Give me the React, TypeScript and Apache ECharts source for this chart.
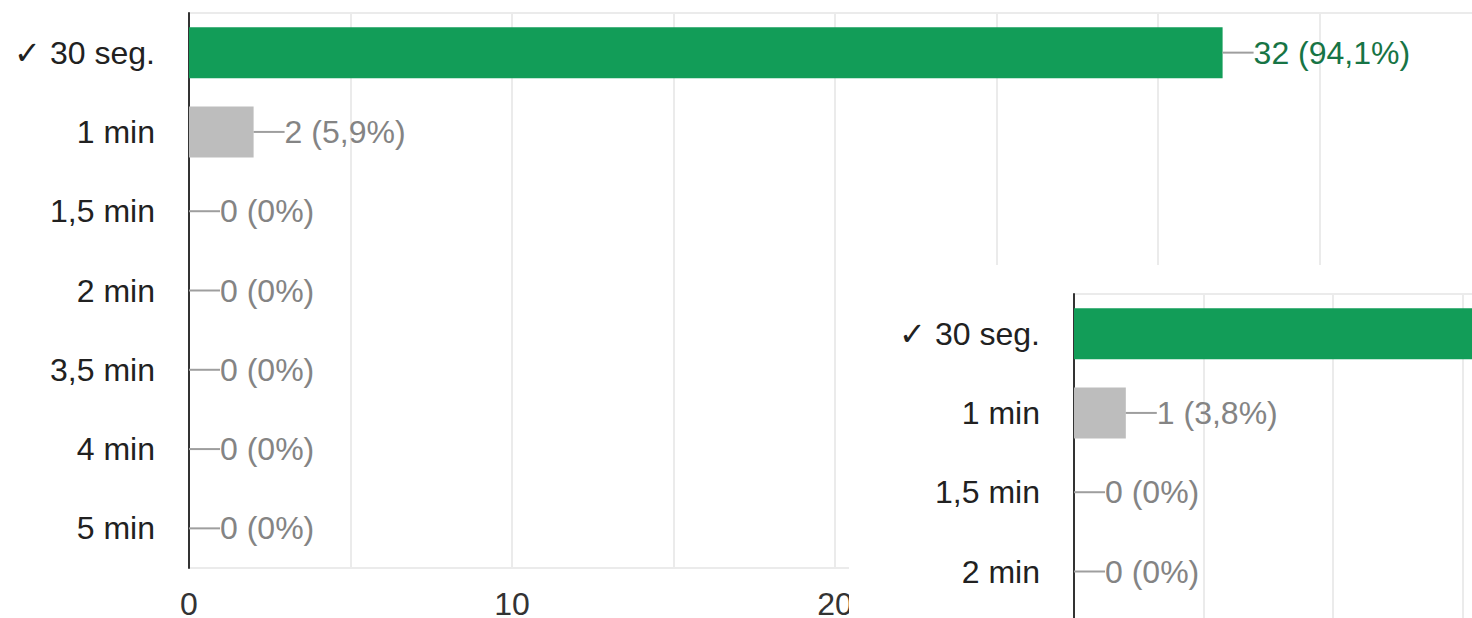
import React, { useEffect, useRef } from "react";
import * as echarts from "echarts";

const categories = ["✓ 30 seg.", "1 min", "1,5 min", "2 min", "3,5 min", "4 min", "5 min"];
const mainCounts = [32, 2, 0, 0, 0, 0, 0];
const insetCounts = [25, 1, 0, 0, 0, 0, 0];
const correctIndex = 0;
const mainTickStep = 5;
const mainLabelStep = 10;
const mainAxisMax = 40;
const mainVisibleTickMax = 30;
const insetTickStep = 2.5;
const insetAxisMax = 30;
const insetVisibleRows = 4;

const FONT = "Arial, 'Liberation Sans', Helvetica, sans-serif";
const GREEN = "#129d58";
const GREEN_TEXT = "#177445";
const GRAY_BAR = "#bdbdbd";
const GRAY_TEXT = "#848484";
const GRID_COLOR = "#ebebeb";

function pctLabel(v: number, total: number): string {
  if (v === 0) return `${v} (0%)`;
  const p = ((v / total) * 100).toFixed(1).replace(".", ",");
  return `${v} (${p}%)`;
}

function buildOption(
  counts: number[],
  grid: any,
  max: number,
  step: number,
  labelStep: number | null,
  isVisibleRow: (i: number, v: number) => boolean
) {
  const total = counts.reduce((a, b) => a + b, 0);
  return {
    animation: false,
    textStyle: { fontFamily: FONT },
    grid: {
      ...grid,
      outerBoundsMode: "none",
      containLabel: false,
      show: true,
      borderColor: GRID_COLOR,
      borderWidth: 2,
      backgroundColor: "transparent",
    },
    xAxis: {
      type: "value",
      min: 0,
      max,
      interval: step,
      axisLine: { show: false },
      axisTick: { show: false },
      splitLine: { show: true, lineStyle: { color: GRID_COLOR, width: 2 } },
      axisLabel: {
        show: labelStep !== null,
        formatter: (v: number) =>
          labelStep !== null && v % labelStep === 0 && v <= mainVisibleTickMax ? String(v) : "",
        fontSize: 32,
        lineHeight: 28,
        color: "#333333",
        margin: 22,
        fontFamily: FONT,
      },
    },
    yAxis: {
      type: "category",
      inverse: true,
      data: categories,
      axisLine: { show: true, lineStyle: { color: "#333333", width: 2 } },
      axisTick: { show: false },
      axisLabel: {
        fontSize: 32,
        color: "#212121",
        margin: 34,
        fontFamily: FONT,
        formatter: (v: string, i: number) => (isVisibleRow(i, 0) ? v : ""),
      },
    },
    series: [
      {
        type: "bar",
        barWidth: 51,
        data: counts.map((v, i) => ({
          value: v,
          itemStyle: { color: i === correctIndex ? GREEN : GRAY_BAR },
          label: { show: isVisibleRow(i, v) },
        })),
        label: {
          show: true,
          position: "right",
          distance: 0,
          formatter: (p: any) =>
            `{l|}{${p.dataIndex === correctIndex ? "g" : "t"}|${pctLabel(p.value, total)}}`,
          rich: {
            l: { width: 31, height: 2, backgroundColor: "#9e9e9e", verticalAlign: "middle" },
            t: { fontSize: 32, color: GRAY_TEXT, fontFamily: FONT, verticalAlign: "middle" },
            g: { fontSize: 32, color: GREEN_TEXT, fontFamily: FONT, verticalAlign: "middle" },
          },
        },
      },
    ],
  };
}

export default function App() {
  const mainRef = useRef<HTMLDivElement>(null);
  const insetRef = useRef<HTMLDivElement>(null);

  useEffect(() => {
    const main = echarts.init(mainRef.current!, undefined, { renderer: "svg" });
    main.setOption(
      buildOption(
        mainCounts,
        { left: 189, top: 13, width: 1292, height: 555 },
        mainAxisMax,
        mainTickStep,
        mainLabelStep,
        () => true
      )
    );
    const inset = echarts.init(insetRef.current!, undefined, { renderer: "svg" });
    inset.setOption(
      buildOption(
        insetCounts,
        { left: 225, top: 29, width: 1554, height: 555 },
        insetAxisMax,
        insetTickStep,
        null,
        // the inset is cropped: its top bar's label and the lower rows lie outside the view
        (i: number, v: number) => i < insetVisibleRows && !(v > 0 && i === correctIndex)
      )
    );
    return () => {
      main.dispose();
      inset.dispose();
    };
  }, []);

  return (
    <div style={{ position: "fixed", left: 0, top: 0, width: 1472, height: 618, overflow: "hidden", background: "#fff" }}>
      <div ref={mainRef} style={{ position: "absolute", left: 0, top: 0, width: 1472, height: 618 }} />
      <div
        style={{ position: "absolute", left: 849, top: 265, width: 623, height: 353, overflow: "hidden", background: "#fff" }}
      >
        <div ref={insetRef} style={{ position: "absolute", left: 0, top: 0, width: 623, height: 353 }} />
      </div>
    </div>
  );
}
